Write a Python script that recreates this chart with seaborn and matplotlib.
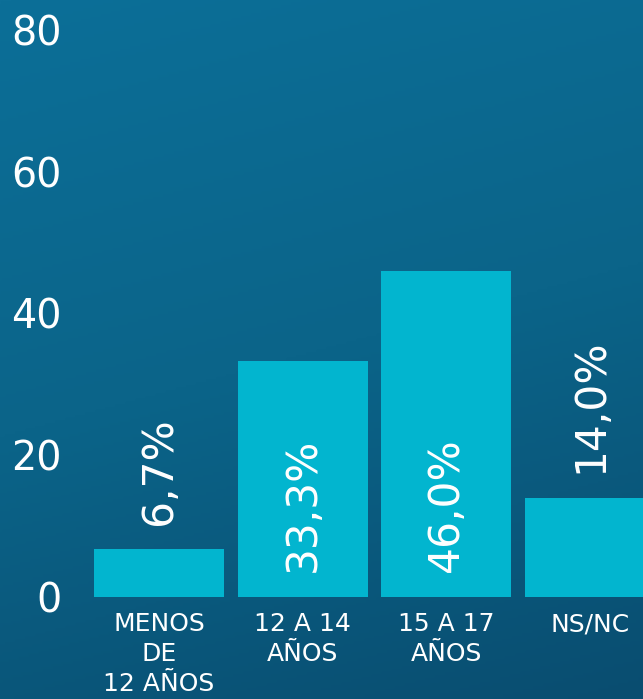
import numpy as np
import pandas as pd
import matplotlib
matplotlib.use("Agg")
import matplotlib.pyplot as plt
import seaborn as sns
from matplotlib.colors import LinearSegmentedColormap

# data
categories = ["MENOS\nDE\n12 AÑOS", "12 A 14\nAÑOS", "15 A 17\nAÑOS", "NS/NC"]
values = [6.7, 33.3, 46.0, 14.0]
value_labels = ["6,7%", "33,3%", "46,0%", "14,0%"]
y_ticks = [0, 20, 40, 60, 80]

df = pd.DataFrame({"edad": categories, "pct": values})

sns.set_theme(style="white")
plt.rcParams["font.family"] = ["DejaVu Sans"]

bar_color = "#02b5cf"
white = "#ffffff"

fig = plt.figure(figsize=(6.43, 6.99), dpi=100)

# background: dark teal gradient
bg = fig.add_axes([0, 0, 1, 1], zorder=-1)
grad = np.linspace(0, 1, 256).reshape(-1, 1)
diag = grad + 0.25 * np.linspace(0, 1, 256).reshape(1, -1)
cmap = LinearSegmentedColormap.from_list("bg", ["#0c6f98", "#0b6489", "#094d70"])
bg.imshow(diag, aspect="auto", cmap=cmap, extent=[0, 1, 0, 1])
bg.set_axis_off()

ax = fig.add_axes([80 / 643, 102 / 699, 563 / 643, 597 / 699])
ax.patch.set_alpha(0)
sns.barplot(data=df, x="edad", y="pct", color=bar_color, saturation=1,
            width=0.906, linewidth=0, ax=ax)

ax.set_xlim(-0.55, 3.369)
ax.set_ylim(0, 84.2)
ax.set_yticks(y_ticks)
ax.set_yticklabels([str(t) for t in y_ticks], fontsize=28.5, color=white)
ax.tick_params(axis="y", length=0, pad=13)
ax.tick_params(axis="x", length=0, pad=11)
for lbl in ax.get_xticklabels():
    lbl.set_fontsize(18)
    lbl.set_color(white)
    lbl.set_linespacing(1.3)
    lbl.set_verticalalignment("top")
ax.set_xlabel("")
ax.set_ylabel("")
for s in ax.spines.values():
    s.set_visible(False)

# rotated value labels: inside tall bars, above short ones
for i, (v, t) in enumerate(zip(values, value_labels)):
    y = 3.5 if v > 20 else v + 3.5
    ax.text(i, y, t, rotation=90, ha="center", va="bottom", fontsize=30.5,
            color=white)

fig.savefig("out.png", dpi=100)
